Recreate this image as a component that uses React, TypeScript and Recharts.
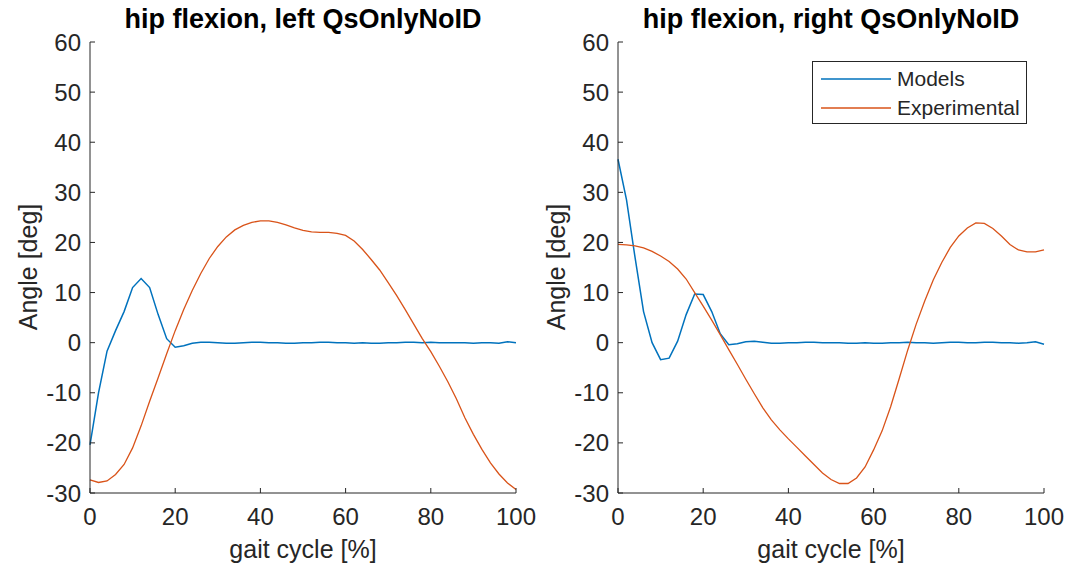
import { LineChart, Line, XAxis, YAxis, Legend } from "recharts";

// Data
const gaitCycle = [
	0, 2, 4, 6, 8, 10, 12, 14, 16, 18, 20, 22, 24, 26, 28, 30, 32, 34, 36, 38, 40, 42, 44, 46, 48, 50,
	52, 54, 56, 58, 60, 62, 64, 66, 68, 70, 72, 74, 76, 78, 80, 82, 84, 86, 88, 90, 92, 94, 96, 98, 100,
];

const leftModels = [
	-20.4, -10, -1.7, 2.4, 6.2, 11, 12.8, 11, 5.6, 0.8, -0.9, -0.6, -0.1, 0.1, 0.1, 0, -0.1, -0.1, 0, 0.1,
	0.1, 0, 0, -0.1, -0.1, 0, 0, 0.1, 0.1, 0, 0, -0.1, 0, -0.1, -0.1, 0, 0, 0.1, 0.1, 0, 0.1, 0, 0, 0, 0,
	-0.1, 0, 0, -0.1, 0.2, 0,
];

const leftExperimental = [
	-27.4, -27.9, -27.6, -26.3, -24.3, -21, -16.6, -11.7, -7, -2.2, 2.4, 6.6, 10.4, 13.8, 16.8, 19.2, 21.1,
	22.5, 23.4, 24, 24.3, 24.3, 24, 23.5, 22.9, 22.4, 22.1, 22, 22, 21.8, 21.4, 20.3, 18.6, 16.6, 14.5, 12,
	9.4, 6.6, 3.7, 0.8, -1.8, -4.7, -7.8, -11.2, -15, -18.3, -21.3, -24, -26.2, -28, -29.3,
];

const rightModels = [
	36.6, 28.5, 17, 6.2, 0, -3.4, -3.1, 0.3, 5.6, 9.7, 9.6, 6.2, 1.8, -0.4, -0.2, 0.2, 0.3, 0.1, -0.1, -0.1,
	0, 0, 0.1, 0.1, 0, 0, 0, -0.1, -0.1, 0, -0.1, -0.1, 0, 0, 0.1, 0, 0, -0.1, 0, 0.1, 0.1, 0, 0, 0.1, 0.1,
	0, 0, -0.1, 0, 0.2, -0.3,
];

const rightExperimental = [
	19.6, 19.5, 19.3, 18.9, 18.2, 17.3, 16.2, 14.7, 12.7, 10, 7.3, 4.5, 1.6, -1.4, -4.3, -7.3, -10.2, -13,
	-15.4, -17.4, -19.2, -20.9, -22.6, -24.3, -26, -27.3, -28.1, -28.1, -27, -24.8, -21.4, -17.6, -12.8,
	-7.2, -1.5, 3.7, 8.3, 12.5, 16, 19, 21.3, 22.9, 23.9, 23.8, 22.8, 21.3, 19.6, 18.5, 18.1, 18.1, 18.5,
];

const xTicks = [0, 20, 40, 60, 80, 100];
const yTicks = [-30, -20, -10, 0, 10, 20, 30, 40, 50, 60];
const seriesNames = ["Models", "Experimental"];
const panelTitles = ["hip flexion, left QsOnlyNoID", "hip flexion, right QsOnlyNoID"];
const xLabel = "gait cycle [%]";
const yLabel = "Angle [deg]";

const FONT = '"Liberation Sans", Arial, Helvetica, sans-serif';
const INK = "#262626";
const BLUE = "#0072BD";
const ORANGE = "#D95319";

const CHART_W = 540;
const CHART_H = 572;

const LegendBox = (props: any) => {
	const payload = [...(props.payload || [])].sort(
		(a: any, b: any) => seriesNames.indexOf(a.value) - seriesNames.indexOf(b.value)
	);
	return (
		<div
			style={{
				border: `1px solid ${INK}`,
				background: "#fff",
				width: 215,
				height: 63,
				boxSizing: "border-box",
				paddingTop: 2,
				fontFamily: FONT,
				fontSize: 21,
				color: INK,
			}}
		>
			{payload.map((entry: any) => (
				<div key={entry.value} style={{ display: "flex", alignItems: "center", height: 29 }}>
					<svg width={84} height={10}>
						<line x1={8} x2={78} y1={5} y2={5} stroke={entry.color} strokeWidth={1.3} />
					</svg>
					<span>{entry.value}</span>
				</div>
			))}
		</div>
	);
};

interface PanelProps {
	left: number;
	title: string;
	models: number[];
	experimental: number[];
	showLegend?: boolean;
}

const Panel = (Props: PanelProps) => {
	const data = gaitCycle.map((x, i) => ({
		x,
		models: Props.models[i],
		experimental: Props.experimental[i],
	}));

	const axisStroke = { stroke: INK, strokeWidth: 1 };
	const tickFont = { fill: INK, fontSize: 24, fontFamily: FONT };

	return (
		<div style={{ position: "absolute", left: Props.left, top: 0, width: CHART_W, height: CHART_H }}>
			<LineChart width={CHART_W} height={CHART_H} data={data} margin={{ top: 42, right: 24, bottom: 0, left: 0 }}>
				<XAxis
					xAxisId="bottom"
					dataKey="x"
					type="number"
					domain={[0, 100]}
					ticks={xTicks}
					height={79}
					tickSize={-5}
					tickMargin={20}
					axisLine={axisStroke}
					tickLine={axisStroke}
					tick={tickFont}
				/>
				<XAxis
					xAxisId="top"
					orientation="top"
					dataKey="x"
					type="number"
					domain={[0, 100]}
					ticks={xTicks}
					height={0}
					tickSize={-5}
					tickFormatter={() => ""}
					axisLine={axisStroke}
					tickLine={axisStroke}
				/>
				<YAxis
					yAxisId="left"
					type="number"
					domain={[-30, 60]}
					ticks={yTicks}
					width={90}
					tickSize={-5}
					tickMargin={14}
					axisLine={axisStroke}
					tickLine={axisStroke}
					tick={tickFont}
				/>
				<YAxis
					yAxisId="right"
					orientation="right"
					type="number"
					domain={[-30, 60]}
					ticks={yTicks}
					width={0}
					tickSize={-5}
					tickFormatter={() => ""}
					axisLine={axisStroke}
					tickLine={axisStroke}
				/>
				<Line
					xAxisId="bottom"
					yAxisId="left"
					type="linear"
					dataKey="models"
					name={seriesNames[0]}
					stroke={BLUE}
					strokeWidth={1.5}
					dot={false}
					isAnimationActive={false}
				/>
				<Line
					xAxisId="bottom"
					yAxisId="left"
					type="linear"
					dataKey="experimental"
					name={seriesNames[1]}
					stroke={ORANGE}
					strokeWidth={1.3}
					dot={false}
					isAnimationActive={false}
				/>
				{Props.showLegend && (
					<Legend
						layout="vertical"
						align="center"
						verticalAlign="middle"
						content={<LegendBox />}
						wrapperStyle={{ position: "absolute", left: 284, top: 61, width: 215 }}
					/>
				)}
			</LineChart>
			<div
				style={{
					position: "absolute",
					left: 90 - 100,
					width: 626,
					top: 4,
					textAlign: "center",
					fontFamily: FONT,
					fontWeight: "bold",
					fontSize: 27,
					lineHeight: "30px",
					color: "#000",
					whiteSpace: "nowrap",
				}}
			>
				{Props.title}
			</div>
			<div
				style={{
					position: "absolute",
					left: 90,
					width: 426,
					top: 535,
					textAlign: "center",
					fontFamily: FONT,
					fontSize: 25,
					lineHeight: "28px",
					color: INK,
				}}
			>
				{xLabel}
			</div>
			<div
				style={{
					position: "absolute",
					left: 28 - 100,
					top: 267 - 14,
					width: 200,
					textAlign: "center",
					fontFamily: FONT,
					fontSize: 25,
					lineHeight: "28px",
					color: INK,
					transform: "rotate(-90deg)",
				}}
			>
				{yLabel}
			</div>
		</div>
	);
};

const App = () => {
	return (
		<div style={{ position: "absolute", left: 0, top: 0, width: 1068, height: 572, background: "#fff" }}>
			<Panel left={0} title={panelTitles[0]} models={leftModels} experimental={leftExperimental} />
			<Panel left={528} title={panelTitles[1]} models={rightModels} experimental={rightExperimental} showLegend />
		</div>
	);
};

export default App;
